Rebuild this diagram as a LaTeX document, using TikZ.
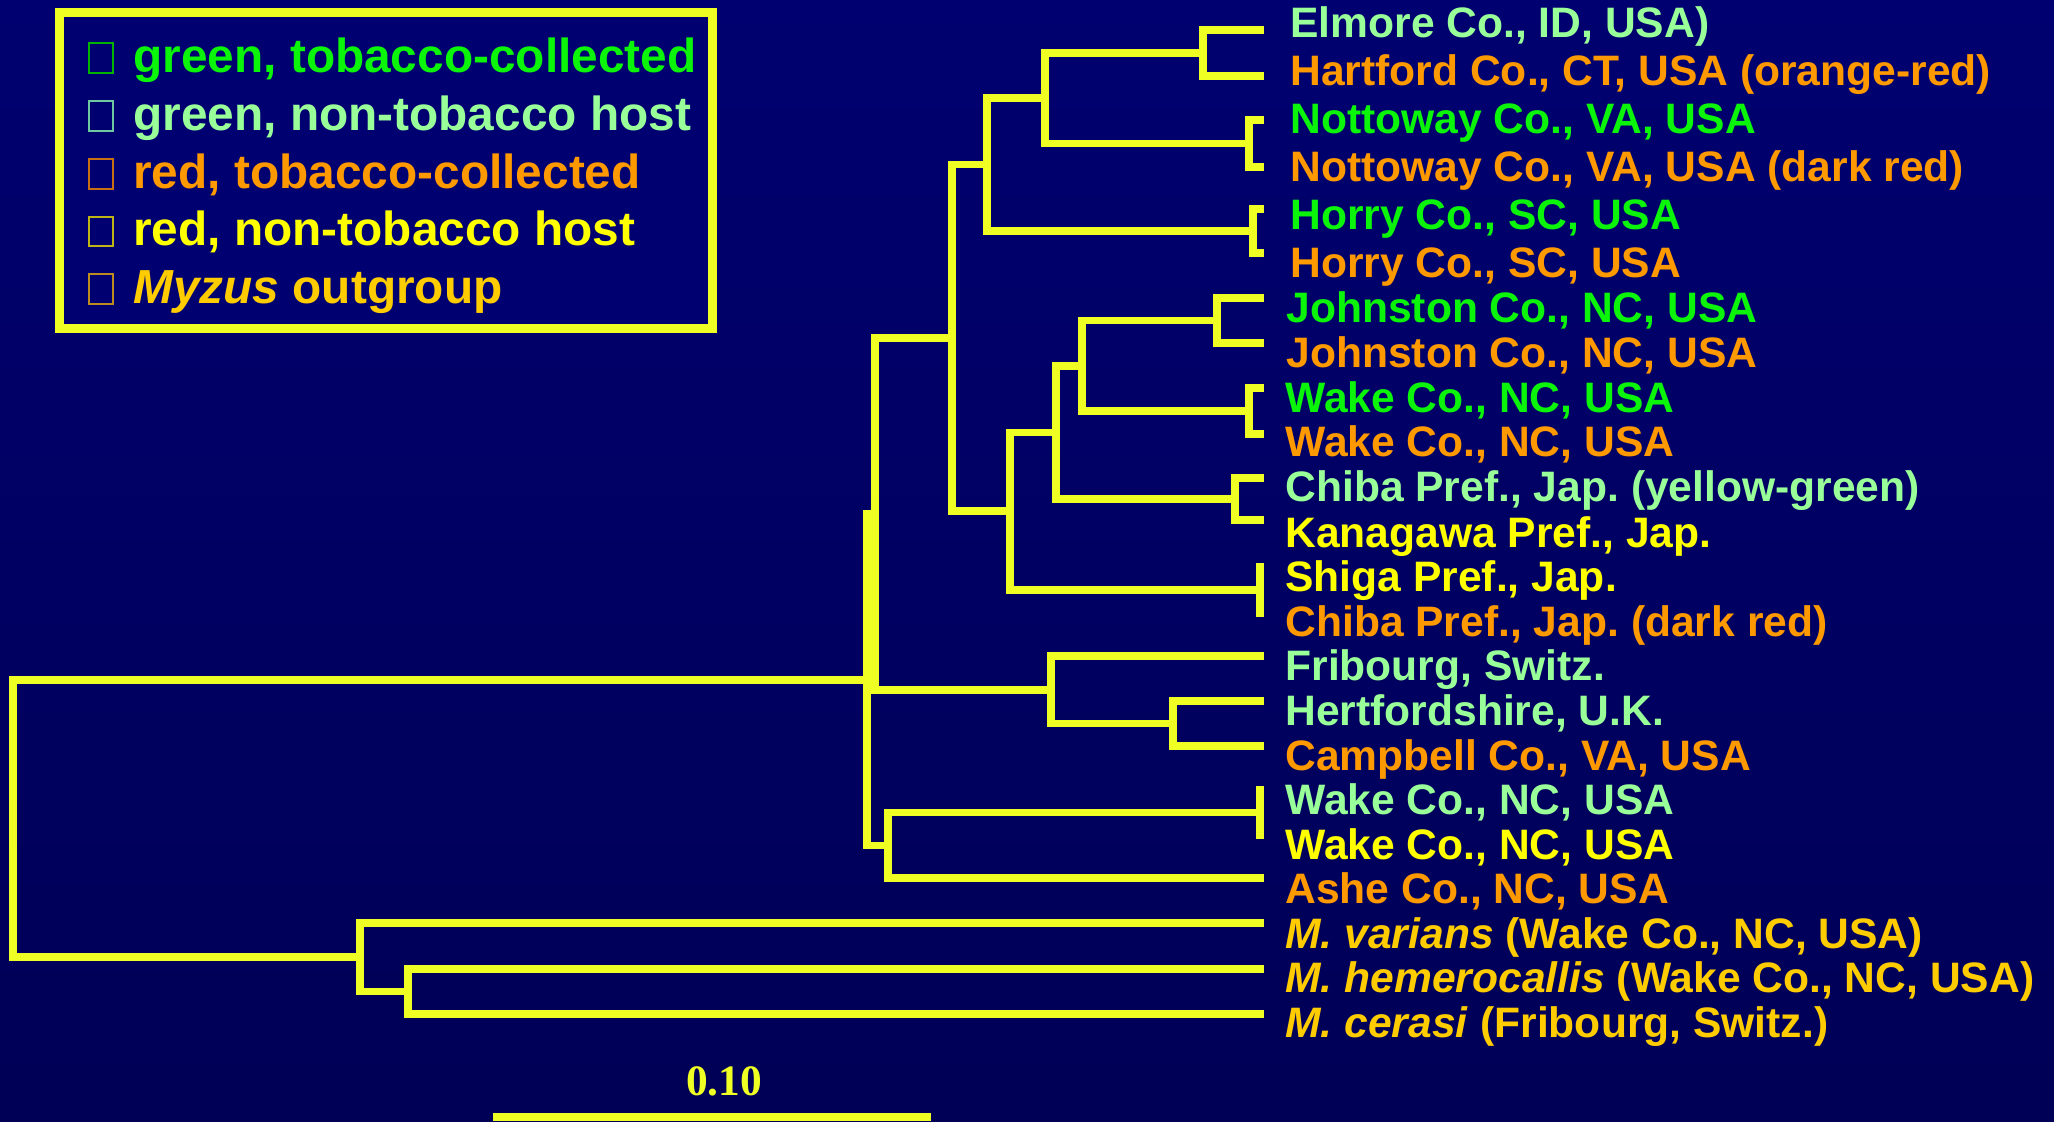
\documentclass[tikz,border=0pt]{standalone}
\usepackage{fontspec}
\setmainfont{Liberation Sans}
\newfontfamily\serifbold{Liberation Serif}
\frenchspacing
\definecolor{bgtop}{RGB}{0,0,112}
\definecolor{bgmid}{RGB}{0,0,150}
\definecolor{bgbot}{RGB}{0,0,86}
\definecolor{treeyellow}{RGB}{240,255,35}
\definecolor{cgreen}{RGB}{10,245,10}
\definecolor{clight}{RGB}{153,255,153}
\definecolor{corange}{RGB}{255,153,0}
\definecolor{cyellow}{RGB}{255,255,0}
\definecolor{cgold}{RGB}{255,204,0}
\begin{document}
\begin{tikzpicture}[x=0.5pt,y=-0.5pt,
  branch/.style={draw=treeyellow, line width=3.75pt, line cap=rect, line join=miter},
  lab/.style={anchor=base west, inner sep=0pt, font=\fontsize{21.3}{25}\selectfont\bfseries},
  legtext/.style={anchor=base west, inner sep=0pt, font=\fontsize{23.9}{28}\selectfont\bfseries},
  swatch/.style={line width=0.6pt}]
\useasboundingbox (0,0) rectangle (2054,1122);
\shade[top color=bgtop, middle color=bgmid, bottom color=bgbot] (0,0) rectangle (2054,1122);

% ---- legend ----
\draw[draw=treeyellow, line width=4.5pt, fill=bgtop] (59.5,13) rectangle (712.5,329);
\draw[swatch, draw={rgb,255:red,0;green,180;blue,0}] (89,43) rectangle (113,73);
\draw[swatch, draw={rgb,255:red,110;green,200;blue,160}] (89,101) rectangle (113,131);
\draw[swatch, draw={rgb,255:red,200;green,110;blue,20}] (89,159) rectangle (113,189);
\draw[swatch, draw={rgb,255:red,190;green,180;blue,20}] (89,217) rectangle (113,246);
\draw[swatch, draw={rgb,255:red,190;green,140;blue,30}] (89,274) rectangle (113,304);
\node[legtext, text=cgreen] (g1) at (133,73) {green, tobacco-collected};
\node[legtext, text=clight] (g2) at (133,131) {green, non-tobacco host};
\node[legtext, text=corange] (g3) at (133,189) {red, tobacco-collected};
\node[legtext, text=cyellow] (g4) at (133,246) {red, non-tobacco host};
\node[legtext, text=cgold] (g5) at (133,304) {\textit{Myzus} outgroup};

% ---- tips ----
\coordinate (t1) at (1260,30);
\coordinate (t2) at (1260,76);
\coordinate (t3) at (1260,120);
\coordinate (t4) at (1260,167);
\coordinate (t5) at (1260,209);
\coordinate (t6) at (1260,253);
\coordinate (t7) at (1260,298);
\coordinate (t8) at (1260,343);
\coordinate (t9) at (1260,388);
\coordinate (t10) at (1260,434);
\coordinate (t11) at (1260,478);
\coordinate (t12) at (1260,520);
\coordinate (t13) at (1260,567);
\coordinate (t14) at (1260,613);
\coordinate (t15) at (1260,656);
\coordinate (t16) at (1260,701);
\coordinate (t17) at (1260,746);
\coordinate (t18) at (1260,790);
\coordinate (t19) at (1260,835);
\coordinate (t20) at (1260,878);
\coordinate (t21) at (1260,923);
\coordinate (t22) at (1260,969);
\coordinate (t23) at (1260,1014);

% ---- internal nodes ----
\coordinate (n12) at (1203,53);
\coordinate (n34) at (1249,143.5);
\coordinate (n1234) at (1045,98);
\coordinate (n56) at (1253,231);
\coordinate (n16) at (987,164.5);
\coordinate (n78) at (1217,320.5);
\coordinate (n910) at (1249,411);
\coordinate (n710) at (1082,366);
\coordinate (n1112) at (1235,499);
\coordinate (n712) at (1056,432.5);
\coordinate (n1314) at (1260,590);
\coordinate (n714) at (1010,511);
\coordinate (n114) at (952,338);
\coordinate (n1617) at (1173,723.5);
\coordinate (n1517) at (1051,690);
\coordinate (nB) at (875,514);
\coordinate (n1819) at (1260,812.5);
\coordinate (nW) at (888,845.5);
\coordinate (nA) at (867,680);
\coordinate (n2223) at (408,991.5);
\coordinate (nOut) at (360,957);
\coordinate (root) at (13,818.5);

% ---- branches ----
\draw[branch] (n12) |- (t1);
\draw[branch] (n12) |- (t2);
\draw[branch] (n34) |- (t3);
\draw[branch] (n34) |- (t4);
\draw[branch] (n1234) |- (n12);
\draw[branch] (n1234) |- (n34);
\draw[branch] (n56) |- (t5);
\draw[branch] (n56) |- (t6);
\draw[branch] (n16) |- (n1234);
\draw[branch] (n16) |- (n56);
\draw[branch] (n78) |- (t7);
\draw[branch] (n78) |- (t8);
\draw[branch] (n910) |- (t9);
\draw[branch] (n910) |- (t10);
\draw[branch] (n710) |- (n78);
\draw[branch] (n710) |- (n910);
\draw[branch] (n1112) |- (t11);
\draw[branch] (n1112) |- (t12);
\draw[branch] (n712) |- (n710);
\draw[branch] (n712) |- (n1112);
\draw[branch] (n1314) |- (t13);
\draw[branch] (n1314) |- (t14);
\draw[branch] (n714) |- (n712);
\draw[branch] (n714) |- (n1314);
\draw[branch] (n114) |- (n16);
\draw[branch] (n114) |- (n714);
\draw[branch] (n1617) |- (t16);
\draw[branch] (n1617) |- (t17);
\draw[branch] (n1517) |- (t15);
\draw[branch] (n1517) |- (n1617);
\draw[branch] (nB) |- (n114);
\draw[branch] (nB) |- (n1517);
\draw[branch] (n1819) |- (t18);
\draw[branch] (n1819) |- (t19);
\draw[branch] (nW) |- (n1819);
\draw[branch] (nW) |- (t20);
\draw[branch] (nA) |- (nB);
\draw[branch] (nA) |- (nW);
\draw[branch] (n2223) |- (t22);
\draw[branch] (n2223) |- (t23);
\draw[branch] (nOut) |- (t21);
\draw[branch] (nOut) |- (n2223);
\draw[branch] (root) |- (nA);
\draw[branch] (root) |- (nOut);

% ---- labels ----
\node[lab, text=clight]  (l1) at (1290,38) {Elmore Co., ID, USA)};
\node[lab, text=corange] (l2) at (1290,86) {Hartford Co., CT, USA (orange-red)};
\node[lab, text=cgreen]  (l3) at (1290,134) {Nottoway Co., VA, USA};
\node[lab, text=corange] (l4) at (1290,182) {Nottoway Co., VA, USA (dark red)};
\node[lab, text=cgreen]  (l5) at (1290,230) {Horry Co., SC, USA};
\node[lab, text=corange] (l6) at (1290,278) {Horry Co., SC, USA};
\node[lab, text=cgreen]  (l7) at (1286,323) {Johnston Co., NC, USA};
\node[lab, text=corange] (l8) at (1286,368) {Johnston Co., NC, USA};
\node[lab, text=cgreen]  (l9) at (1285,413) {Wake Co., NC, USA};
\node[lab, text=corange] (l10) at (1285,457) {Wake Co., NC, USA};
\node[lab, text=clight]  (l11) at (1285,502) {Chiba Pref., Jap. (yellow-green)};
\node[lab, text=cyellow] (l12) at (1285,547) {Kanagawa Pref., Jap.};
\node[lab, text=cyellow] (l13) at (1285,591) {Shiga Pref., Jap.};
\node[lab, text=corange] (l14) at (1285,636) {Chiba Pref., Jap. (dark red)};
\node[lab, text=clight]  (l15) at (1285,680) {Fribourg, Switz.};
\node[lab, text=clight]  (l16) at (1285,725) {Hertfordshire, U.K.};
\node[lab, text=corange] (l17) at (1285,770) {Campbell Co., VA, USA};
\node[lab, text=clight]  (l18) at (1285,814) {Wake Co., NC, USA};
\node[lab, text=cyellow] (l19) at (1285,859) {Wake Co., NC, USA};
\node[lab, text=corange] (l20) at (1285,903) {Ashe Co., NC, USA};
\node[lab, text=cgold]   (l21) at (1285,948) {\textit{M. varians} (Wake Co., NC, USA)};
\node[lab, text=cgold]   (l22) at (1285,992) {\textit{M. hemerocallis} (Wake Co., NC, USA)};
\node[lab, text=cgold]   (l23) at (1285,1037) {\textit{M. cerasi} (Fribourg, Switz.)};

% ---- scale bar ----
\coordinate (sb1) at (493,1117);
\coordinate (sb2) at (931,1117);
\draw[draw=treeyellow, line width=4pt] (sb1) -- (sb2);
\node[anchor=base, inner sep=0pt, text=treeyellow, font=\serifbold\fontsize{21.7}{25}\selectfont\bfseries] (sbl) at (724,1095) {0.10};
\end{tikzpicture}
\end{document}
